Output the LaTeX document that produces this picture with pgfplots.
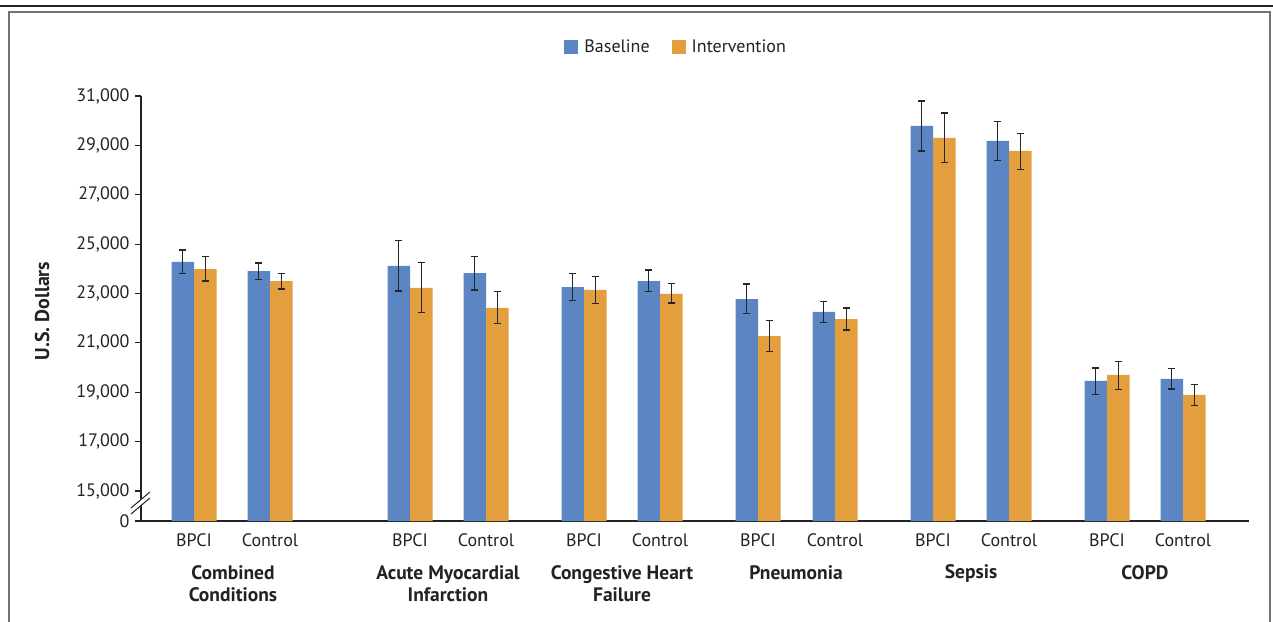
\documentclass[border=0pt]{standalone}
\usepackage{pgfplots}
\pgfplotsset{compat=1.18}
\usepackage{pgfplotstable}
\usepackage{fontspec}
\setmainfont{PT Sans}
\definecolor{cblue}{HTML}{5B85C3}
\definecolor{corange}{HTML}{E39F3D}
\definecolor{txt}{HTML}{222222}

% x = category position, y = value, ep/em = upper/lower error
\pgfplotstableread{
x y ep em
194 24276 486 473
270 23911 325 335
410 24114 1025 1013
486 23830 661 688
584 23263 554 555
660 23506 446 433
758 22777 608 595
835 22251 432 428
933 29785 1012 1013
1009 29177 797 783
1107 19456 526 539
1183 19537 418 405
}\base
\pgfplotstableread{
x y ep em
194 23992 499 486
270 23506 311 324
410 23223 1025 1001
486 22413 660 636
584 23142 539 555
660 22980 431 365
758 21278 635 635
835 21967 446 446
933 29299 1012 1000
1009 28772 702 757
1107 19699 554 594
1183 18889 418 434
}\interv

\begin{document}
\begin{tikzpicture}[x=1pt,y=1pt]
\useasboundingbox (0,0) rectangle (1273,621);
\draw[line width=1.5pt, color=black!85] (0,615) -- (1273,615);
\draw[line width=2pt, color=black!55] (9,-5) |- (1270,609) -- (1270,-5);
\begin{axis}[
  at={(141pt,100pt)}, anchor=south west,
  scale only axis, width=1108pt, height=425pt,
  xmin=141, xmax=1249, ymin=13785, ymax=31000,
  axis x line*=bottom, axis y line*=left,
  axis line style={line width=1.1pt, color=txt, -},
  clip=true,
  scaled y ticks=false,
  ybar, bar width=22.5,
  xtick={194,270,410,486,584,660,758,835,933,1009,1107,1183},
  xticklabels={BPCI,Control,BPCI,Control,BPCI,Control,BPCI,Control,BPCI,Control,BPCI,Control},
  x tick style={draw=none},
  xticklabel style={anchor=base, yshift=-19pt, font=\fontsize{18}{20}\selectfont, text=txt},
  ytick={13785,15000,17000,19000,21000,23000,25000,27000,29000,31000},
  yticklabels={0,{15,000},{17,000},{19,000},{21,000},{23,000},{25,000},{27,000},{29,000},{31,000}},
  y tick style={line width=1.1pt, color=txt},
  tick align=outside, major tick length=6pt,
  yticklabel style={font=\fontsize{18}{20}\selectfont, text=txt, xshift=-2pt},
  legend style={draw=none, at={(0.483,1.115)}, anchor=center, legend columns=2,
    font=\fontsize{18}{20}\selectfont, text=txt,
    /tikz/every odd column/.append style={column sep=4pt},
    /tikz/every even column/.append style={column sep=20pt}},
  legend image code/.code={\fill[#1] (0pt,-7pt) rectangle (14pt,7pt);},
  error bars/error bar style={line width=1.3pt, color=black!85},
  error bars/error mark options={rotate=90, mark size=3.5pt, line width=1.3pt, color=black!85},
]
\addplot[fill=cblue, draw=none, bar shift=-11.25,
  error bars/.cd, y dir=both, y explicit]
  table[x=x, y=y, y error plus=ep, y error minus=em] {\base};
\addlegendentry{Baseline}
\addplot[fill=corange, draw=none, bar shift=11.25,
  error bars/.cd, y dir=both, y explicit]
  table[x=x, y=y, y error plus=ep, y error minus=em] {\interv};
\addlegendentry{Intervention}
\end{axis}
% axis break
\fill[white] (131,108) -- (151,124) -- (151,130) -- (131,114) -- cycle;
\draw[line width=1pt, color=txt] (131,107) -- (150,123);
\draw[line width=1pt, color=txt] (131,113) -- (150,129);
% y label
\node[rotate=90, font=\fontsize{20}{22}\selectfont\bfseries, text=txt] at (42,310) {U.S. Dollars};
% group labels
\begin{scope}[every node/.style={align=center, font=\fontsize{19.5}{22}\selectfont\bfseries, text=txt}]
\node at (233,37) {Combined\\Conditions};
\node at (448,37) {Acute Myocardial\\Infarction};
\node at (622,37) {Congestive Heart\\Failure};
\node at (796,48) {Pneumonia};
\node at (971,48) {Sepsis};
\node at (1145,48) {COPD};
\end{scope}
\end{tikzpicture}
\end{document}
